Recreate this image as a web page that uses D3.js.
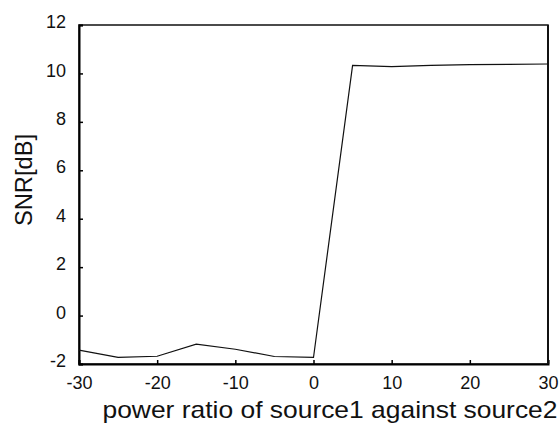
<!DOCTYPE html>
<html>
<head>
<meta charset="utf-8">
<script src="https://cdn.jsdelivr.net/npm/d3@7"></script>
<style>
  body{margin:0;background:#fff;}
  text{font-family:"Liberation Sans",Arial,sans-serif;fill:#111;}
</style>
</head>
<body>
<svg width="560" height="425"></svg>
<script>
const ratios=[-30,-25,-20,-15,-10,-5,0,5,10,15,20,25,30];
const snr=[-1.43,-1.73,-1.68,-1.18,-1.39,-1.69,-1.73,10.33,10.28,10.33,10.36,10.37,10.39];
const xTicks=[-30,-20,-10,0,10,20,30];
const yTicks=[-2,0,2,4,6,8,10,12];

const m={left:79,top:25,right:548,bottom:364};
const svg=d3.select('svg');

const xScale=d3.scaleLinear().domain([-30,30]).range([m.left,m.right]);
const yScale=d3.scaleLinear().domain([-2,12]).range([m.bottom,m.top]);

// frame
svg.append('rect')
  .attr('x',m.left).attr('y',m.top)
  .attr('width',m.right-m.left).attr('height',m.bottom-m.top)
  .attr('fill','none').attr('stroke','#111').attr('stroke-width',1.5);

const xAxis=svg.append('g')
  .attr('transform',`translate(0,${m.bottom})`)
  .call(d3.axisBottom(xScale).tickValues(xTicks).tickSize(-4).tickPadding(12).tickFormat(d=>String(d)));
xAxis.select('.domain').attr('stroke-width',2);
xAxis.selectAll('.tick line').attr('stroke-width',1.5);
xAxis.selectAll('text').attr('font-size',18).style('font-family','"Liberation Sans",Arial,sans-serif').attr('fill','#111');

const yAxis=svg.append('g')
  .attr('transform',`translate(${m.left},0)`)
  .call(d3.axisLeft(yScale).tickValues(yTicks).tickSize(-4).tickPadding(13).tickFormat(d=>String(d)));
yAxis.select('.domain').attr('stroke-width',2);
yAxis.selectAll('.tick line').attr('stroke-width',1.5);
yAxis.selectAll('text').attr('font-size',18).attr('dy','0.15em').style('font-family','"Liberation Sans",Arial,sans-serif').attr('fill','#111');

svg.append('line')
  .attr('x1',m.right).attr('x2',m.right).attr('y1',m.top).attr('y2',m.bottom)
  .attr('stroke','#111').attr('stroke-width',2);

const line=d3.line().x((d,i)=>xScale(ratios[i])).y(d=>yScale(d));
svg.append('path')
  .datum(snr)
  .attr('d',line)
  .attr('fill','none')
  .attr('stroke','#111')
  .attr('stroke-width',1.2);

svg.append('text')
  .attr('x',330).attr('y',418)
  .attr('text-anchor','middle')
  .attr('font-size',24)
  .attr('textLength',455)
  .attr('lengthAdjust','spacingAndGlyphs')
  .text('power ratio of source1 against source2');

svg.append('text')
  .attr('transform','translate(32,180) rotate(-90)')
  .attr('text-anchor','middle')
  .attr('font-size',24)
  .attr('textLength',92)
  .attr('lengthAdjust','spacingAndGlyphs')
  .text('SNR[dB]');
</script>
</body>
</html>
